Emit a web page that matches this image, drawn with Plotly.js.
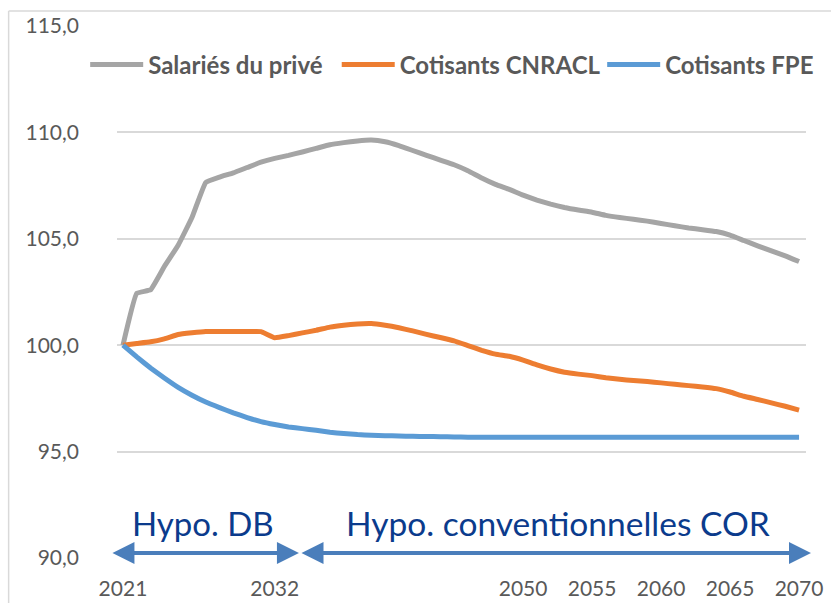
<!DOCTYPE html>
<html>
<head>
<meta charset="utf-8">
<script src="https://cdn.plot.ly/plotly-3.0.1.min.js"></script>
<style>
  html, body { margin: 0; padding: 0; background: #ffffff; }
  #chart { width: 831px; height: 603px; }
</style>
</head>
<body>
<div id="chart"></div>
<script>
const years = [2021,2022,2023,2024,2025,2026,2027,2028,2029,2030,
  2031,2032,2033,2034,2035,2036,2037,2038,2039,2040,
  2041,2042,2043,2044,2045,2046,2047,2048,2049,2050,
  2051,2052,2053,2054,2055,2056,2057,2058,2059,2060,
  2061,2062,2063,2064,2065,2066,2067,2068,2069,2070];

const salariesPrive = [100.0,102.44,102.6,103.7,104.7,106.0,107.65,107.9,108.1,108.35,
  108.6,108.78,108.92,109.08,109.25,109.42,109.52,109.6,109.64,109.56,
  109.38,109.15,108.92,108.7,108.48,108.2,107.86,107.56,107.32,107.05,
  106.82,106.63,106.47,106.35,106.25,106.1,106.0,105.92,105.83,105.72,
  105.61,105.51,105.43,105.34,105.17,104.92,104.67,104.43,104.2,103.93];

const cotisantsCNRACL = [100.0,100.08,100.16,100.3,100.5,100.58,100.64,100.64,100.64,100.64,
  100.64,100.35,100.45,100.58,100.7,100.85,100.94,101.0,101.02,100.94,
  100.82,100.67,100.51,100.36,100.2,99.98,99.76,99.58,99.48,99.3,
  99.07,98.88,98.73,98.64,98.57,98.47,98.4,98.34,98.29,98.23,
  98.16,98.1,98.04,97.96,97.8,97.6,97.45,97.29,97.13,96.95];

const cotisantsFPE = [100.0,99.45,98.93,98.46,98.02,97.65,97.33,97.07,96.82,96.6,
  96.41,96.27,96.16,96.08,96.0,95.91,95.85,95.8,95.77,95.75,
  95.73,95.72,95.71,95.7,95.69,95.68,95.68,95.67,95.67,95.67,
  95.67,95.67,95.67,95.67,95.67,95.67,95.67,95.67,95.67,95.67,
  95.67,95.67,95.67,95.67,95.67,95.67,95.67,95.67,95.67,95.67];

const seriesNames = ['Salariés du privé', 'Cotisants CNRACL', 'Cotisants FPE'];
const xTickYears = [2021, 2032, 2050, 2055, 2060, 2065, 2070];
const yTicks = [90, 95, 100, 105, 110, 115];
const periodLabels = ['Hypo. DB', 'Hypo. conventionnelles COR'];

const colors = ['#A5A5A5', '#ED7D31', '#5B9BD5'];
const seriesValues = [salariesPrive, cotisantsCNRACL, cotisantsFPE];
const legendIds = ['legend', 'legend2', 'legend3'];

const traces = seriesValues.map((vals, i) => ({
  type: 'scatter',
  mode: 'lines',
  x: years,
  y: vals,
  name: seriesNames[i],
  legend: legendIds[i],
  line: { color: colors[i], width: 5, shape: 'spline', smoothing: 0.3 },
  hoverinfo: 'x+y+name'
}));

// plot area pixel geometry
const L = 117, R = 21, T = 26, B = 45, W = 831, H = 603;
const pw = W - L - R, ph = H - T - B;
const px2paperX = px => (px - L) / pw;
const px2paperY = py => (H - B - py) / ph;

const arrowColor = '#4A7EBB';
const textBlue = '#0B3B8C';
const fontFam = 'Lato, "Open Sans", sans-serif';

function legendAt(pxX) {
  return {
    orientation: 'h',
    x: px2paperX(pxX), xanchor: 'left',
    y: px2paperY(65), yanchor: 'middle',
    font: { family: fontFam, size: 24, color: '#595959', weight: 'bold' },
    bgcolor: 'rgba(0,0,0,0)',
    itemwidth: 53
  };
}

const layout = {
  width: W, height: H,
  margin: { l: L, r: R, t: T, b: B, pad: 0 },
  paper_bgcolor: '#ffffff',
  plot_bgcolor: '#ffffff',
  separators: ', ',
  font: { family: fontFam, color: '#595959', size: 21 },
  showlegend: true,
  legend: legendAt(85),
  legend2: legendAt(338),
  legend3: legendAt(605),
  xaxis: {
    type: 'linear',
    range: [2020.568, 2070.504],
    tickmode: 'array',
    tickvals: xTickYears,
    ticktext: xTickYears.map(String),
    showgrid: false,
    zeroline: false,
    showline: false,
    ticks: '',
    ticklabelstandoff: 16,
    tickfont: { size: 21, color: '#595959' },
    fixedrange: true
  },
  yaxis: {
    range: [90, 115],
    tickmode: 'array',
    tickvals: yTicks,
    tickformat: '.1f',
    showgrid: true,
    gridcolor: '#D9D9D9',
    gridwidth: 1.5,
    zeroline: false,
    showline: false,
    ticks: '',
    ticklabelstandoff: 37,
    tickfont: { size: 21, color: '#595959' },
    fixedrange: true
  },
  shapes: [
    { type: 'line', xref: 'paper', yref: 'paper', x0: px2paperX(8), x1: px2paperX(840), y0: px2paperY(11), y1: px2paperY(11), line: { color: '#D9D9D9', width: 1.5 } },
    { type: 'line', xref: 'paper', yref: 'paper', x0: px2paperX(8), x1: px2paperX(8), y0: px2paperY(11), y1: px2paperY(610), line: { color: '#D9D9D9', width: 1.5 } }
  ],
  annotations: [
    { xref: 'paper', yref: 'paper', x: px2paperX(300), y: px2paperY(553), ax: -188, ay: 0, axref: 'pixel', ayref: 'pixel', text: '', showarrow: true, arrowside: 'end+start', arrowhead: 2, arrowsize: 1.1, arrowwidth: 4, arrowcolor: arrowColor, standoff: 0, startstandoff: 0 },
    { xref: 'paper', yref: 'paper', x: px2paperX(815), y: px2paperY(553), ax: -511, ay: 0, axref: 'pixel', ayref: 'pixel', text: '', showarrow: true, arrowside: 'end+start', arrowhead: 2, arrowsize: 1.1, arrowwidth: 4, arrowcolor: arrowColor, standoff: 0, startstandoff: 0 },
    { xref: 'paper', yref: 'paper', x: px2paperX(203), y: px2paperY(523), xanchor: 'center', yanchor: 'middle', text: periodLabels[0], showarrow: false, font: { family: fontFam, size: 33, color: textBlue } },
    { xref: 'paper', yref: 'paper', x: px2paperX(561), y: px2paperY(523), xanchor: 'center', yanchor: 'middle', text: periodLabels[1], showarrow: false, font: { family: fontFam, size: 33.5, color: textBlue } }
  ]
};

Plotly.newPlot('chart', traces, layout, { displayModeBar: false });
</script>
</body>
</html>
